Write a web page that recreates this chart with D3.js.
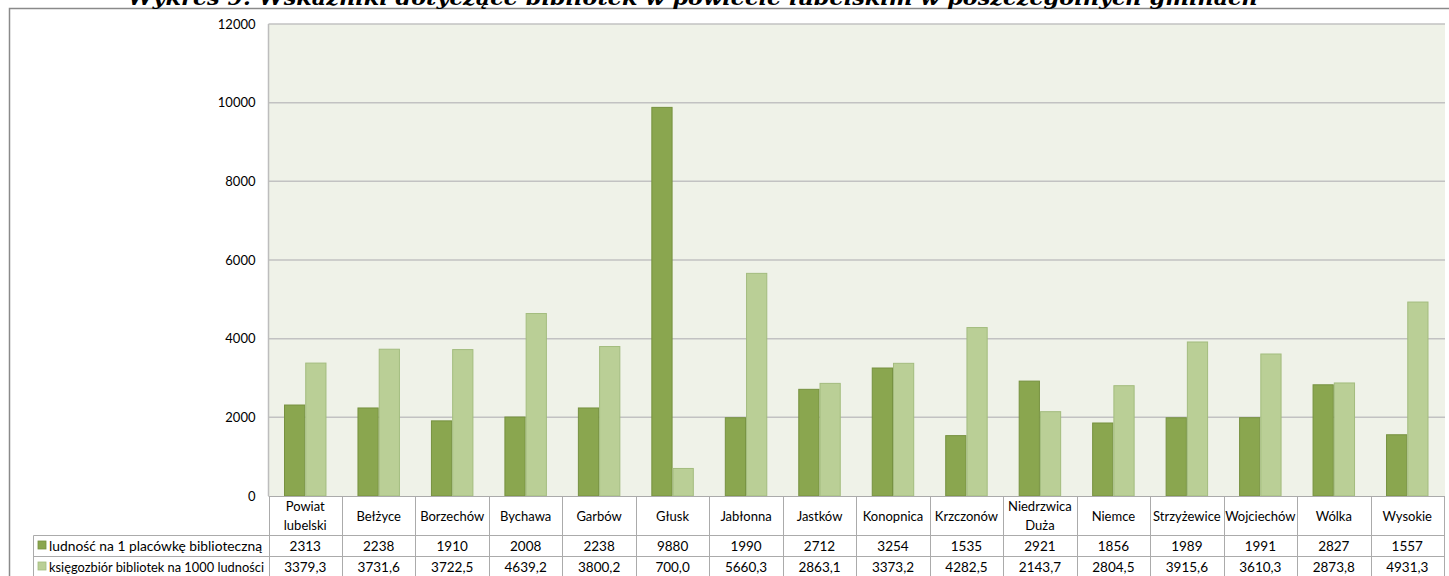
<!DOCTYPE html>
<html><head><meta charset="utf-8">
<script src="https://cdn.jsdelivr.net/npm/d3@7"></script>
<style>
html,body{margin:0;padding:0;background:#fff;overflow:hidden}
svg{display:block}
</style></head>
<body>
<svg id="c" width="1449" height="576"></svg>
<script>
const title = "Wykres 9. Wskaźniki dotyczące bibliotek w powiecie lubelskim w poszczególnych gminach";
const categories = ["Powiat|lubelski","Bełżyce","Borzechów","Bychawa","Garbów","Głusk","Jabłonna","Jastków","Konopnica","Krzczonów","Niedrzwica|Duża","Niemce","Strzyżewice","Wojciechów","Wólka","Wysokie"];
const seriesNames = ["ludność na 1 placówkę biblioteczną","księgozbiór bibliotek na 1000 ludności"];
const ludnosc = [2313,2238,1910,2008,2238,9880,1990,2712,3254,1535,2921,1856,1989,1991,2827,1557];
const ksiegozbior = [3379.3,3731.6,3722.5,4639.2,3800.2,700.0,5660.3,2863.1,3373.2,4282.5,2143.7,2804.5,3915.6,3610.3,2873.8,4931.3];
const yTicks = [0,2000,4000,6000,8000,10000,12000];

const colors = ["#8AA64F","#BACF96"];
const strokes = ["#76913F","#A3BC7E"];
const fmt = [v => String(v), v => v.toFixed(1).replace(".", ",")];
const seriesValues = [ludnosc, ksiegozbior];

const svg = d3.select("#c");
const font = "Lato, 'Open Sans', sans-serif";
const L = 268.5, R = 1444, T = 24, B = 496;

// outer chart border
svg.append("path").attr("d", `M9.5,576 V8.5 H1449`).attr("fill","none").attr("stroke","#8a8a8a").attr("stroke-width",1.5);

// title (clipped at top as in the reference)
svg.append("text").attr("x", 128).attr("y", 4.5)
  .attr("textLength", 1130).attr("lengthAdjust","spacingAndGlyphs")
  .attr("font-family","'DejaVu Serif', serif").attr("font-weight","bold").attr("font-style","italic")
  .attr("font-size", 21).attr("fill","#000").text(title);

const x = d3.scaleBand().domain(d3.range(categories.length)).range([L, R]).paddingInner(0).paddingOuter(0);
const x1 = d3.scaleBand().domain([0,1]).range([0, x.bandwidth()]).paddingInner(0).paddingOuter(0.73);
const y = d3.scaleLinear().domain([0,12000]).range([B, T]);

// plot background
svg.append("rect").attr("x", L).attr("y", T).attr("width", R - L + 1).attr("height", B - T).attr("fill","#EFF2E8");

// gridlines
svg.append("g").selectAll("line").data(yTicks.filter(d => d > 0)).join("line")
  .attr("x1", L).attr("x2", R + 1).attr("y1", d => y(d)).attr("y2", d => y(d))
  .attr("stroke","#C2C2C2").attr("stroke-width",1.5);
svg.append("line").attr("x1", L).attr("x2", L).attr("y1", T).attr("y2", B).attr("stroke","#BDBDBD").attr("stroke-width",1.5);

// y axis labels
const yAxis = d3.axisLeft(y).tickValues(yTicks).tickSize(0).tickPadding(13).tickFormat(d3.format("d"));
const ga = svg.append("g").attr("transform", `translate(${L},0)`).call(yAxis);
ga.select(".domain").remove();
ga.selectAll("text").attr("font-family", font).attr("font-size", 13).attr("fill","#000");

// bars
seriesValues.forEach((vals, s) => {
  svg.append("g").selectAll("rect").data(vals).join("rect")
    .attr("x", (d,i) => x(i) + x1(s) + 0.5)
    .attr("width", x1.bandwidth() - 1)
    .attr("y", d => y(d))
    .attr("height", d => B - y(d))
    .attr("fill", colors[s]).attr("stroke", strokes[s]).attr("stroke-width", 1);
});

// data table
const lineCol = "#ABABAB";
const tbl = svg.append("g").attr("stroke", lineCol).attr("stroke-width", 1);
tbl.append("line").attr("x1", L).attr("x2", R).attr("y1", B + 0.5).attr("y2", B + 0.5);
tbl.append("line").attr("x1", 33.5).attr("x2", R).attr("y1", 535.5).attr("y2", 535.5);
tbl.append("line").attr("x1", 33.5).attr("x2", R).attr("y1", 556.5).attr("y2", 556.5);
tbl.append("line").attr("x1", 33.5).attr("x2", 33.5).attr("y1", 535.5).attr("y2", 577);
tbl.selectAll(".v").data(d3.range(categories.length + 1)).join("line")
  .attr("x1", i => Math.round(i < categories.length ? x(i) : R) + 0.5)
  .attr("x2", i => Math.round(i < categories.length ? x(i) : R) + 0.5)
  .attr("y1", B).attr("y2", 577);

// category labels
const cat = svg.append("g").attr("font-family", font).attr("font-size", 13).attr("fill","#000").attr("text-anchor","middle");
categories.forEach((c, i) => {
  const parts = c.split("|");
  const cx = x(i) + x.bandwidth() / 2;
  const t = cat.append("text").attr("x", cx);
  if (parts.length === 1) {
    t.attr("y", 520.5).text(parts[0]);
  } else {
    t.append("tspan").attr("x", cx).attr("y", 511).text(parts[0]);
    t.append("tspan").attr("x", cx).attr("y", 530).text(parts[1]);
  }
});

// value rows
const rowY = [550.5, 571.5];
const legendLen = [213, 215];
seriesValues.forEach((vals, s) => {
  svg.append("g").selectAll("text").data(vals).join("text")
    .attr("x", (d,i) => x(i) + x.bandwidth() / 2).attr("y", rowY[s])
    .attr("text-anchor","middle").attr("font-family", font).attr("font-size", 13.5).attr("fill","#000")
    .text(d => fmt[s](d));
  svg.append("rect").attr("x", 38).attr("y", rowY[s] - 9.5).attr("width", 8).attr("height", 8)
    .attr("fill", colors[s]).attr("stroke", strokes[s]).attr("stroke-width", 0.8);
  svg.append("text").attr("x", 49).attr("y", rowY[s]).attr("font-family", font).attr("font-size", 13.5).attr("fill","#000")
    .attr("textLength", legendLen[s]).attr("lengthAdjust", "spacingAndGlyphs")
    .text(seriesNames[s]);
});
</script>
</body></html>
